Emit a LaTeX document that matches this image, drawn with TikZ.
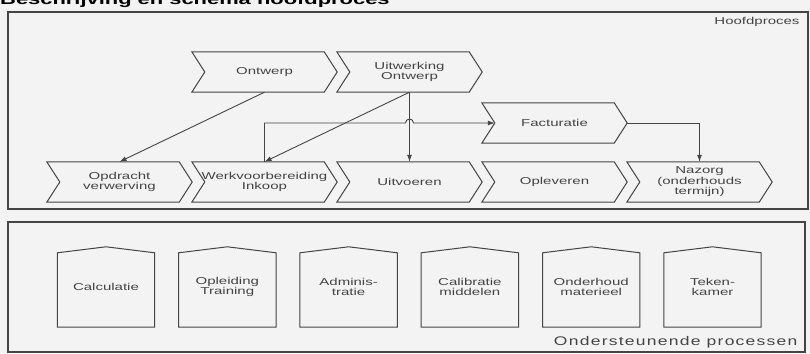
\documentclass[tikz,border=0pt]{standalone}
\usepackage{fontspec}
\setmainfont{Liberation Sans}
\newfontfamily\widefont{Liberation Sans}[FakeStretch=1.5]
\newfontfamily\spacedfont{Liberation Sans}[FakeStretch=1.4,LetterSpace=10]
\usetikzlibrary{arrows.meta,calc}
\definecolor{lijn}{HTML}{444444}
\definecolor{papier}{HTML}{F3F3F3}

\begin{document}
\begin{tikzpicture}[x=1pt, y=1pt,
		lbl/.style={font=\widefont\fontsize{10}{10.5}\selectfont, align=center, text=lijn},
		chev/.style={lbl, minimum width=145pt, minimum height=40pt, inner sep=0pt},
		huis/.style={lbl, minimum width=97pt, minimum height=80pt, inner sep=0pt},
		omtrek/.style={draw=lijn, line width=1pt, line join=miter},
		kader/.style={draw=lijn, line width=1.3pt},
		pijl/.style={draw=lijn, line width=0.9pt, -{Latex[length=7pt,width=5pt]}}]
		\useasboundingbox (0,0) rectangle (810,353);
		\fill[papier] (0,0) rectangle (810,353);

		\node[anchor=base west, inner sep=0pt, font=\widefont\bfseries\fontsize{14.6}{16}\selectfont] (titel) at (0,348) {Beschrijving en schema hoofdproces};

		\draw[kader] (8,341) rectangle (808,144);
		\node[lbl, anchor=east] (hoofd) at (803,331) {Hoofdproces};

		\node[chev] (ontw) at (264.5,281) {Ontwerp};
		\node[chev] (uitw) at (409.5,281) {Uitwerking\\Ontwerp};
		\node[chev] (fact) at (554.5,230) {Facturatie};
		\node[chev] (opdr) at (119.5,171) {Opdracht\\verwerving};
		\node[chev] (werk) at (264.5,171) {Werkvoorbereiding\\Inkoop};
		\node[chev] (uitv) at (409.5,171) {Uitvoeren};
		\node[chev] (oplev) at (554.5,171) {Opleveren};
		\node[chev] (naz) at (699.5,171) {Nazorg\\(onderhouds\\termijn)};

		\foreach \n in {ontw,uitw,fact,opdr,werk,uitv,oplev,naz}
			\draw[omtrek] (\n.north west) -- ([xshift=-13pt]\n.north east) -- (\n.east)
				-- ([xshift=-13pt]\n.south east) -- (\n.south west) -- ([xshift=13pt]\n.west) -- cycle;

		\draw[pijl] (ontw.south) -- (opdr.north);
		\draw[pijl] (uitw.south) -- (werk.north);
		\draw[pijl] (uitw.south) -- (uitv.north);
		\draw[pijl] (werk.north) |- ($(uitv.north |- fact.west)+(-4,0)$)
			arc[start angle=180, end angle=0, radius=4pt] -- ([xshift=13pt]fact.west);
		\draw[pijl] (fact.east) -| (naz.north);

		\draw[kader] (8,131) rectangle (805,1);
		\node[font=\spacedfont\fontsize{12.5}{14}\selectfont, text=lijn, anchor=east] (onder) at (801,11) {Ondersteunende processen};

		\foreach \i/\txt in {1/Calculatie, 2/{Opleiding\\Training}, 3/{Adminis-\\tratie},
				4/{Calibratie\\middelen}, 5/{Onderhoud\\materieel}, 6/{Teken-\\kamer}} {
			\node[huis] (h\i) at ({-15.3+121.3*\i},66) {\txt};
			\draw[omtrek] (h\i.south west) -- ([yshift=-6pt]h\i.north west) -- (h\i.north)
				-- ([yshift=-6pt]h\i.north east) -- (h\i.south east) -- cycle;
		}
	\end{tikzpicture}
\end{document}
